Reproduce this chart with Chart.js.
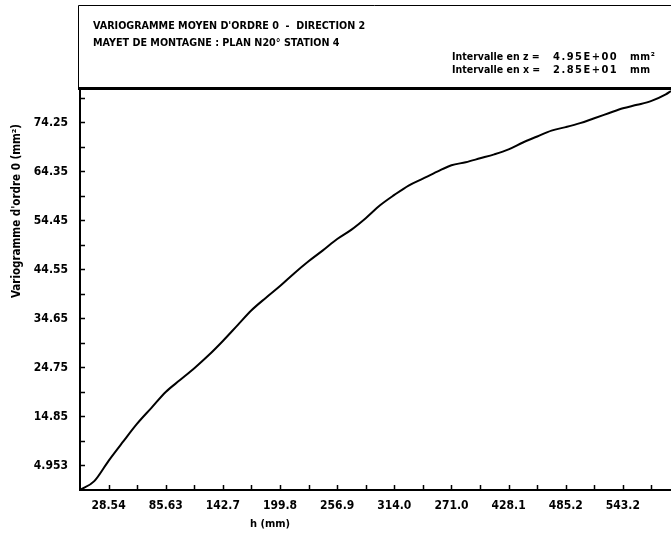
<!DOCTYPE html>
<html><head><meta charset="utf-8">
<script src="https://cdn.jsdelivr.net/npm/chart.js@4.4.0/dist/chart.umd.min.js"></script>
<style>html,body{margin:0;padding:0;background:#fff;overflow:hidden;}</style>
</head><body>
<canvas id="c" width="671" height="540"></canvas>
<script>
// ---- data ----
const hValues = [0, 14.27, 28.54, 42.81, 57.08, 71.35, 85.62, 99.89, 114.2, 128.4, 142.7, 157.0, 171.3, 185.5, 199.8, 214.1, 228.3, 242.6, 256.9, 271.2, 285.4, 299.7, 314.0, 328.2, 342.5, 356.8, 371.0, 385.3, 399.6, 413.8, 428.1, 442.4, 456.7, 470.9, 485.2, 499.5, 513.7, 528.0, 542.3, 556.5, 570.8, 585.1, 590.3];
const gammaValues = [0, 1.8, 5.9, 9.7, 13.4, 16.6, 19.8, 22.2, 24.6, 27.2, 30.1, 33.2, 36.3, 38.8, 41.2, 43.8, 46.2, 48.4, 50.7, 52.6, 54.9, 57.5, 59.6, 61.5, 62.9, 64.3, 65.6, 66.2, 67.0, 67.8, 68.8, 70.2, 71.4, 72.6, 73.3, 74.1, 75.1, 76.1, 77.1, 77.8, 78.6, 79.9, 80.6];
const xInterval = 28.54;
const yInterval = 4.95;
const xTickLabels = ["28.54", "85.63", "142.7", "199.8", "256.9", "314.0", "271.0", "428.1", "485.2", "543.2"];
const yTickLabels = ["4.953", "14.85", "24.75", "34.65", "44.55", "54.45", "64.35", "74.25"];
const titleLines = ["VARIOGRAMME MOYEN D'ORDRE 0  -  DIRECTION 2", "MAYET DE MONTAGNE : PLAN N20° STATION 4"];
const infoLabels = ["Intervalle en z =", "Intervalle en x ="];
const infoValues = ["4.95E+00", "2.85E+01"];
const infoUnits = ["mm²", "mm"];
const yTitle = "Variogramme d'ordre 0 (mm²)";
const xTitle = "h (mm)";

const FONT = "'DejaVu Sans Condensed', 'DejaVu Sans', sans-serif";
const xTickVals = []; for (let k = 1; k <= 20; k++) xTickVals.push(k * xInterval);
const yTickVals = []; for (let k = 1; k <= 16; k++) yTickVals.push(k * yInterval);

const decor = {
  id: 'decor',
  afterDatasetsDraw(chart) {
    const ctx = chart.ctx, xs = chart.scales.x, ys = chart.scales.y, a = chart.chartArea;
    ctx.save();
    ctx.strokeStyle = '#000'; ctx.lineWidth = 1.5;
    ctx.beginPath();
    xs.ticks.forEach(t => { const p = Math.round(xs.getPixelForValue(t.value)) + 0.5; ctx.moveTo(p, a.bottom); ctx.lineTo(p, a.bottom - 5); });
    ys.ticks.forEach(t => { const p = Math.round(ys.getPixelForValue(t.value)) + 0.5; ctx.moveTo(a.left, p); ctx.lineTo(a.left + 5, p); });
    ctx.stroke();
    // header box
    ctx.lineWidth = 1;
    ctx.beginPath();
    ctx.moveTo(78.5, 89); ctx.lineTo(78.5, 5.5); ctx.lineTo(671, 5.5);
    ctx.stroke();
    ctx.lineWidth = 3;
    ctx.beginPath(); ctx.moveTo(78, 88.5); ctx.lineTo(671, 88.5); ctx.stroke();
    ctx.fillStyle = '#000';
    ctx.textBaseline = 'middle';
    ctx.textAlign = 'left';
    ctx.font = 'bold 10.7px ' + FONT;
    ctx.fillText(titleLines[0], 93, 26);
    ctx.fillText(titleLines[1], 93, 43);
    const iy = [57, 70];
    for (let i = 0; i < 2; i++) {
      ctx.font = 'bold 10.5px ' + FONT;
      ctx.letterSpacing = '0px';
      ctx.fillText(infoLabels[i], 452, iy[i]);
      ctx.font = 'bold 11px ' + FONT;
      ctx.letterSpacing = '1.5px';
      ctx.fillText(infoValues[i], 553, iy[i]);
      ctx.letterSpacing = '0.5px';
      ctx.font = 'bold 10.5px ' + FONT;
      ctx.fillText(infoUnits[i], 630, iy[i]);
    }
    ctx.letterSpacing = '0px';
    // axis titles
    ctx.font = 'bold 11px ' + FONT;
    ctx.textAlign = 'center';
    ctx.fillText(xTitle, 270, 524);
    ctx.save();
    ctx.translate(17, 211); ctx.rotate(-Math.PI / 2);
    ctx.font = 'bold 11.5px ' + FONT;
    ctx.fillText(yTitle, 0, 0);
    ctx.restore();
    ctx.restore();
  }
};

new Chart(document.getElementById('c'), {
  type: 'line',
  data: {
    datasets: [{
      data: hValues.map((h, i) => ({ x: h, y: gammaValues[i] })),
      borderColor: '#000', borderWidth: 2, pointRadius: 0, fill: false,
      cubicInterpolationMode: 'monotone'
    }]
  },
  options: {
    responsive: false, animation: false,
    layout: { padding: { top: 89, right: 0, left: 0, bottom: 0 } },
    plugins: { legend: { display: false }, tooltip: { enabled: false } },
    scales: {
      x: {
        type: 'linear', min: 0, max: 590.3,
        afterBuildTicks: s => { s.ticks = xTickVals.map(v => ({ value: v })); },
        afterFit: s => { s.height = 50; },
        ticks: { autoSkip: false, maxRotation: 0, padding: 9, color: '#000',
          font: { family: FONT, size: 12, weight: 'bold' },
          callback: (v, i) => (i % 2 === 0 ? xTickLabels[i / 2] : '') },
        grid: { display: false, drawTicks: false },
        border: { display: true, color: '#000', width: 2 }
      },
      y: {
        type: 'linear', min: 0, max: 81.0,
        afterBuildTicks: s => { s.ticks = yTickVals.map(v => ({ value: v })); },
        afterFit: s => { s.width = 80; },
        ticks: { autoSkip: false, padding: 12, color: '#000',
          font: { family: FONT, size: 12, weight: 'bold' },
          callback: (v, i) => (i % 2 === 0 ? yTickLabels[i / 2] : '') },
        grid: { display: false, drawTicks: false },
        border: { display: true, color: '#000', width: 2 }
      }
    }
  },
  plugins: [decor]
});
</script>
</body></html>
